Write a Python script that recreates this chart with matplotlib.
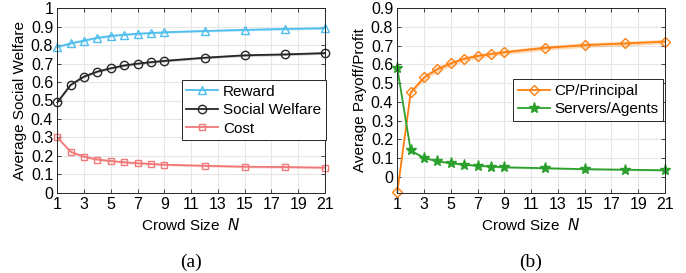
import matplotlib
matplotlib.use("Agg")
import matplotlib.pyplot as plt
import numpy as np

plt.rcParams['font.family'] = ['Liberation Sans', 'DejaVu Sans']
plt.rcParams['font.size'] = 11
plt.rcParams['xtick.labelsize'] = 11.5
plt.rcParams['ytick.labelsize'] = 11.5

crowd = [1, 2, 3, 4, 5, 6, 7, 8, 9, 12, 15, 18, 21]

reward = [0.79, 0.81, 0.825, 0.84, 0.85, 0.857, 0.862, 0.866, 0.87, 0.877, 0.883, 0.888, 0.892]
welfare = [0.49, 0.585, 0.63, 0.657, 0.675, 0.69, 0.70, 0.708, 0.715, 0.732, 0.745, 0.75, 0.757]
cost = [0.30, 0.222, 0.195, 0.18, 0.172, 0.165, 0.16, 0.156, 0.152, 0.146, 0.141, 0.139, 0.136]

cp = [-0.083, 0.45, 0.53, 0.575, 0.605, 0.63, 0.645, 0.655, 0.665, 0.688, 0.703, 0.712, 0.722]
servers = [0.58, 0.14, 0.10, 0.082, 0.072, 0.064, 0.058, 0.054, 0.05, 0.045, 0.04, 0.037, 0.034]

# half-width of the shaded bands
band_a = [0.006, 0.006, 0.006, 0.006, 0.006, 0.006, 0.006, 0.006, 0.006, 0.006, 0.006, 0.006, 0.006]
band_cp = [0.004, 0.012, 0.014, 0.014, 0.013, 0.013, 0.012, 0.012, 0.012, 0.012, 0.012, 0.012, 0.012]
band_srv = [0.005, 0.005, 0.005, 0.005, 0.005, 0.005, 0.005, 0.005, 0.005, 0.005, 0.005, 0.005, 0.005]

fig = plt.figure(figsize=(6.86, 2.73), dpi=100)
ax1 = fig.add_axes([57.3/686, 1-192.7/273, (325-57.3)/686, (192.7-8.3)/273])
ax2 = fig.add_axes([397.3/686, 1-192.7/273, (665-397.3)/686, (192.7-8.3)/273])

x = np.array(crowd)

def style(ax):
    ax.set_xlim(1, 21)
    ax.set_xticks(range(1, 22, 2))
    ax.grid(True, color='#e6e6e6', linewidth=0.8)
    ax.set_axisbelow(True)
    ax.tick_params(direction='in', top=True, right=True, length=3, width=0.6,
                   color='#262626', pad=3)
    for s in ax.spines.values():
        s.set_color('#262626')
        s.set_linewidth(0.7)
    ax.set_xlabel('Crowd Size  $\\it{N}$', labelpad=4)

def line(ax, y, band, color, marker, label, ms=6, mfc='none'):
    y = np.array(y)
    b = np.array(band)
    ax.fill_between(x, y - b, y + b, color=color, alpha=0.3, linewidth=0)
    ax.plot(x, y, color=color, marker=marker, markersize=ms, markerfacecolor=mfc,
            markeredgewidth=1.0, linewidth=1.3, label=label, clip_on=False)

def legend(ax, anchor):
    leg = ax.legend(loc='upper left', bbox_to_anchor=anchor, frameon=True, fancybox=False,
                    edgecolor='#262626', handlelength=2.1, handletextpad=0.3, borderpad=0.3,
                    labelspacing=0.3, borderaxespad=0, framealpha=1)
    leg.get_frame().set_linewidth(0.7)

line(ax1, reward, band_a, '#4DBEEE', '^', 'Reward')
line(ax1, welfare, band_a, '#262626', 'o', 'Social Welfare')
line(ax1, cost, band_a, '#F07878', 's', 'Cost', ms=5)
style(ax1)
ax1.set_ylim(0, 1)
ax1.set_yticks(np.arange(0, 1.01, 0.1))
ax1.set_yticklabels(['0', '0.1', '0.2', '0.3', '0.4', '0.5', '0.6', '0.7', '0.8', '0.9', '1'])
ax1.set_ylabel('Average Social Welfare', labelpad=3)
legend(ax1, (0.465, 0.611))

line(ax2, cp, band_cp, '#FF7F0E', 'D', 'CP/Principal', ms=5)
line(ax2, servers, band_srv, '#2CA02C', '*', 'Servers/Agents', ms=8, mfc='#2CA02C')
style(ax2)
ax2.set_ylim(-0.086, 0.9)
ax2.set_yticks(np.arange(0, 0.91, 0.1))
ax2.set_yticklabels(['0', '0.1', '0.2', '0.3', '0.4', '0.5', '0.6', '0.7', '0.8', '0.9'])
ax2.set_ylabel('Average Payoff/Profit', labelpad=3)
legend(ax2, (0.433, 0.615))

fig.text(191/686, 1-262/273, '(a)', family='Liberation Serif', fontsize=14, ha='center', va='center')
fig.text(531/686, 1-262/273, '(b)', family='Liberation Serif', fontsize=14, ha='center', va='center')

fig.savefig('out.png', dpi=100)
